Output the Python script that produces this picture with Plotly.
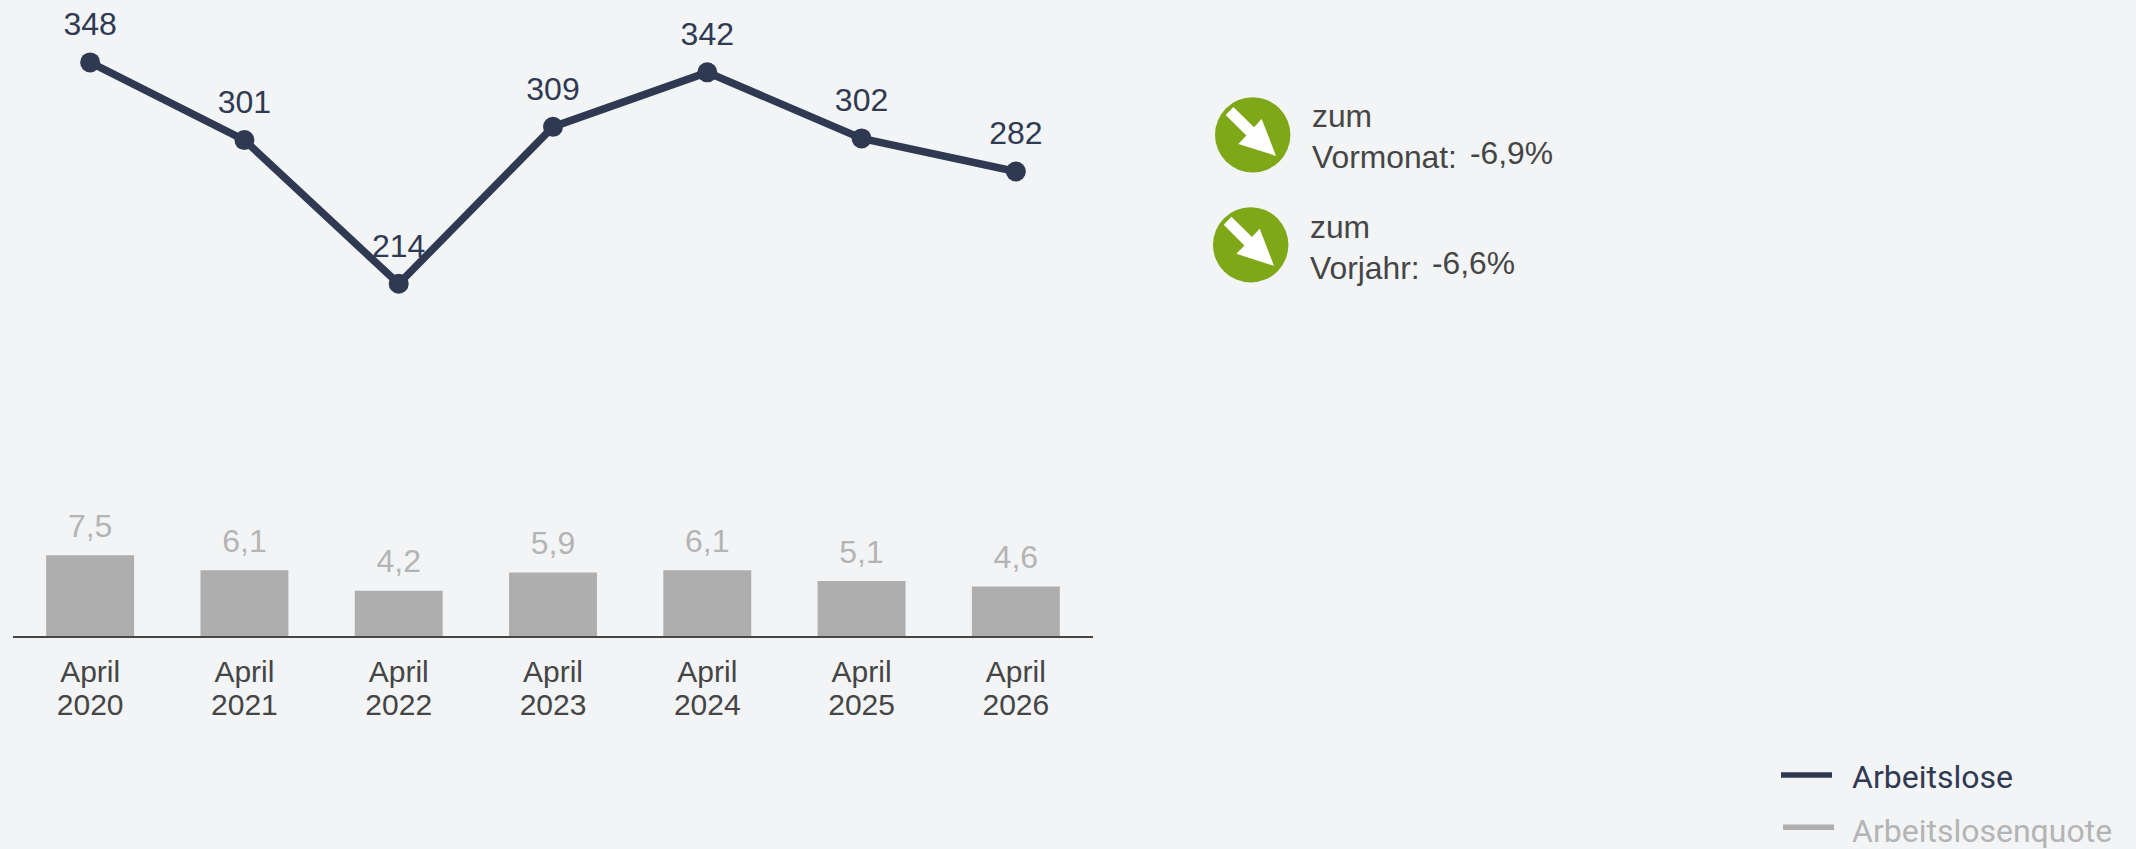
import plotly.graph_objects as go

W, H = 2136, 849
BG = "#f2f4f6"
NAVY = "#2f3a52"
GREY = "#aeaeae"
GREY_TXT = "#b4b4b4"
DARK = "#454545"
GREEN = "#7fa819"
SANS = "Liberation Sans, Arial, sans-serif"

categories = ["2020", "2021", "2022", "2023", "2024", "2025", "2026"]
month = "April"
arbeitslose = [348, 301, 214, 309, 342, 302, 282]
quote = [7.5, 6.1, 4.2, 5.9, 6.1, 5.1, 4.6]
kpi_labels = ["Vormonat:", "Vorjahr:"]
kpi_values = ["-6,9%", "-6,6%"]
legend_names = ["Arbeitslose", "Arbeitslosenquote"]

ML, MR, MT, MB = 13, W - 1093, 0, H - 636.5


def px(x):
    return (x - ML) / (W - ML - MR)


def py(y):
    return 1 - (y - MT) / (H - MT - MB)


fig = go.Figure()
fig.add_bar(
    x=categories, y=quote, yaxis="y", width=0.57,
    marker=dict(color=GREY, line_width=0),
    showlegend=False, hoverinfo="x+y",
)
# value labels sit on invisible markers, whose size sets their distance from the mark
fig.add_scatter(
    x=categories, y=quote, yaxis="y", mode="markers+text",
    marker=dict(size=15, opacity=0),
    text=[str(v).replace(".", ",") for v in quote], textposition="top center",
    textfont=dict(family=SANS, size=32, color=GREY_TXT),
    cliponaxis=False, showlegend=False, hoverinfo="skip",
)
fig.add_scatter(
    x=categories, y=arbeitslose, yaxis="y2", mode="lines+markers",
    line=dict(color=NAVY, width=7.5), marker=dict(color=NAVY, size=20),
    cliponaxis=False, showlegend=False,
)
fig.add_scatter(
    x=categories, y=arbeitslose, yaxis="y2", mode="markers+text",
    marker=dict(size=29, opacity=0),
    text=[str(v) for v in arbeitslose], textposition="top center",
    textfont=dict(family=SANS, size=32, color=NAVY),
    cliponaxis=False, showlegend=False, hoverinfo="skip",
)

shapes, annotations = [], []


def arrow_icon(cx, cy):
    r = 37.7
    shapes.append(dict(type="circle", xref="paper", yref="paper",
                       x0=px(cx - r), x1=px(cx + r), y0=py(cy + r), y1=py(cy - r),
                       fillcolor=GREEN, line_width=0, layer="above"))
    pts = [(-19.3, -28), (1.3, -7.7), (9, -16), (23.3, 21), (-14.3, 9),
           (-6.3, 0.7), (-27, -20)]
    d = "M" + " L".join(f"{px(cx + a):.6f},{py(cy + b):.6f}" for a, b in pts) + " Z"
    shapes.append(dict(type="path", xref="paper", yref="paper", path=d,
                       fillcolor="white", line_width=0, layer="above"))


def text(x, y, s, size, color, family=SANS, anchor="left"):
    annotations.append(dict(x=px(x), y=py(y), xref="paper", yref="paper", text=s,
                            showarrow=False, xanchor=anchor, yanchor="middle",
                            align="left", borderpad=0,
                            font=dict(family=family, size=size, color=color)))


arrow_icon(1252.7, 135)
arrow_icon(1250.7, 245)
text(1311, 137, f"zum<br>{kpi_labels[0]}", 31.8, DARK)
text(1309, 248, f"zum<br>{kpi_labels[1]}", 31.8, DARK)
text(1469, 153, kpi_values[0], 31.8, DARK)
text(1431, 263, kpi_values[1], 31.8, DARK)

for y, x0, name, col in [(775.5, 1781, legend_names[0], NAVY), (828, 1783, legend_names[1], GREY)]:
    shapes.append(dict(type="line", xref="paper", yref="paper", x0=px(x0), x1=px(x0 + 51),
                       y0=py(y), y1=py(y), line=dict(color=col, width=5.5)))
    text(1851, y + 2 if col == NAVY else y + 4, name, 32, NAVY if col == NAVY else GREY_TXT, family="Roboto")

fig.update_layout(
    width=W, height=H, margin=dict(l=ML, r=MR, t=MT, b=MB, pad=0),
    paper_bgcolor=BG, plot_bgcolor=BG, showlegend=False,
    shapes=shapes, annotations=annotations,
    xaxis=dict(type="category", categoryorder="array", categoryarray=categories,
               tickmode="array", tickvals=categories,
               ticktext=[f"<span style='font-size:30px'>{month}</span><br><span style='font-size:30px'>{c}</span>"
                         for c in categories],
               tickfont=dict(family=SANS, size=25, color=DARK),
               ticklabelstandoff=14,
               showline=True, linecolor=DARK, linewidth=2.3, ticks="", ticklen=0,
               showgrid=False, zeroline=False, tickangle=0,
               range=[-0.5, 6.5]),
    yaxis=dict(range=[0, 59], visible=False, showgrid=False, zeroline=False),
    yaxis2=dict(range=[0.8, 385.8], overlaying="y", visible=False, showgrid=False, zeroline=False),
)

fig.write_html("out.html", config={"displayModeBar": False},
               post_script="document.body.style.margin='0';document.body.style.overflow='hidden';")
